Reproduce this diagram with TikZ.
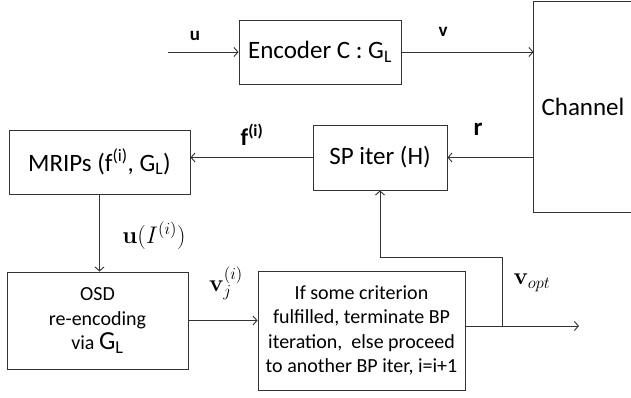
\RequirePackage{fix-cm}
\documentclass[tikz,border=0pt]{standalone}
\usepackage[no-math]{fontspec}
\setmainfont{Carlito}
\usetikzlibrary{arrows.meta}
\begin{document}
\begin{tikzpicture}[x=1bp,y=-1bp,line width=0.9bp,
  box/.style={draw=black!80,rectangle,inner sep=0pt,align=center},
  big/.style={font=\fontsize{25bp}{30bp}\selectfont},
  small/.style={font=\fontsize{20bp}{24.5bp}\selectfont},
  lab/.style={inner sep=0pt},
  arr/.style={draw=black!80,-{Straight Barb[length=4bp,width=9bp]}},
  ln/.style={draw=black!80}]
\useasboundingbox (0,0) rectangle (631,397);
% boxes
\node[box,big,minimum width=162bp,minimum height=64bp] (enc) at (320,52) {Encoder C : G\textsubscript{L}};
\node[big,inner sep=0pt,minimum width=98bp,minimum height=210bp] (ch) at (583,107) {Channel};
\draw[ln] (ch.north east) -- (ch.north west) -- (ch.south west) -- (ch.south east);
\node[box,big,minimum width=134bp,minimum height=65bp] (sp) at (380,157.5) {SP iter (H)};
\node[box,big,minimum width=181bp,minimum height=64bp] (mr) at (99.5,162) {MRIPs (f\textsuperscript{(i)}, G\textsubscript{L})};
\node[box,small,minimum width=181bp,minimum height=97bp] (osd) at (97.5,320.5)
  {OSD\\re-encoding\\via {\fontsize{26bp}{26bp}\selectfont G\textsubscript{L}}};
\node[box,small,minimum width=207bp,minimum height=119bp] (crit) at (361.5,330.5)
  {If some criterion\\fulfilled, terminate BP\\iteration,\ \ else proceed\\to another BP iter, i=i+1};
% labels
\node[lab,font=\fontsize{19bp}{19bp}\selectfont\bfseries] (lu) at (195,36) {u};
\node[lab,font=\fontsize{19bp}{19bp}\selectfont\bfseries] (lv) at (443,32) {v};
\node[lab,font=\fontsize{25bp}{25bp}\selectfont\bfseries] (lr) at (478,129) {r};
\node[lab,font=\fontsize{24bp}{24bp}\selectfont\bfseries] (lf) at (252,135) {f\textsuperscript{(i)}};
\node[lab,font=\fontsize{24bp}{24bp}\selectfont] (lui) at (154,236) {$\mathbf{u}(I^{(i)})$};
\node[lab,font=\fontsize{24bp}{24bp}\selectfont] (lvj) at (226,283) {$\mathbf{v}_j^{(i)}$};
\node[lab,font=\fontsize{24bp}{24bp}\selectfont] (lvo) at (532,283) {$\mathbf{v}_{opt}$};
% connectors
\coordinate (uin) at (168,52);
\coordinate (br) at (502,326);
\coordinate (out) at (579,326);
\coordinate (fb) at (502,257);
\draw[arr] (uin) -- (enc.west);
\draw[arr] (enc.east) -- (enc.east -| ch.west);
\draw[arr] (sp.east -| ch.west) -- (sp.east);
\draw[arr] (sp.west) -- (sp.west -| mr.east);
\draw[arr] (mr.south) -- (mr.south |- osd.north);
\draw[arr] (osd.east) -- (osd.east -| crit.west);
\draw[ln] (crit.east |- br) -- (br);
\draw[arr] (br) -- (out);
\draw[arr] (br) -- (fb) -| (sp.south);
\end{tikzpicture}
\end{document}
